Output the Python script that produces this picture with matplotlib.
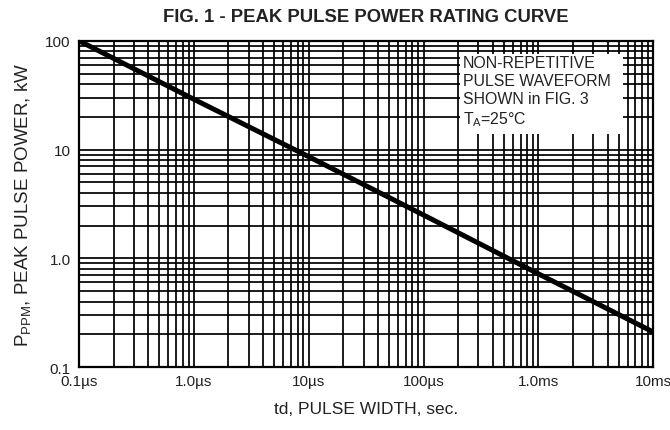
import numpy as np
import matplotlib.pyplot as plt
from matplotlib.patches import Rectangle
from matplotlib.ticker import FixedLocator, FixedFormatter, NullFormatter, LogLocator

plt.rcParams['font.family'] = ['Liberation Sans', 'DejaVu Sans']

# pulse width (s) and peak pulse power (kW)
pulse_width = [1e-7, 1e-6, 1e-5, 1e-4, 1e-3, 1e-2]
peak_power = [100, 29, 8.6, 2.5, 0.72, 0.21]

x_ticks = [1e-7, 1e-6, 1e-5, 1e-4, 1e-3, 1e-2]
x_labels = ['0.1\u00b5s', '1.0\u00b5s', '10\u00b5s', '100\u00b5s', '1.0ms', '10ms']
y_ticks = [0.1, 1, 10, 100]
y_labels = ['0.1', '1.0', '10', '100']

note_lines = ['NON-REPETITIVE', 'PULSE WAVEFORM', 'SHOWN in FIG. 3', 'T$_{\\mathregular{A}}$=25\u00b0C']

text_color = '#222222'

fig = plt.figure(figsize=(6.7, 4.31), dpi=100)
ax = fig.add_axes([0.118, 0.146, 0.857, 0.757])

ax.set_xscale('log')
ax.set_yscale('log')
ax.set_xlim(1e-7, 1e-2)
ax.set_ylim(0.1, 100)

ax.xaxis.set_major_locator(FixedLocator(x_ticks))
ax.xaxis.set_major_formatter(FixedFormatter(x_labels))
ax.yaxis.set_major_locator(FixedLocator(y_ticks))
ax.yaxis.set_major_formatter(FixedFormatter(y_labels))
ax.xaxis.set_minor_locator(LogLocator(base=10, subs=np.arange(2, 10), numticks=20))
ax.yaxis.set_minor_locator(LogLocator(base=10, subs=np.arange(2, 10), numticks=20))
ax.xaxis.set_minor_formatter(NullFormatter())
ax.yaxis.set_minor_formatter(NullFormatter())

ax.grid(True, which='both', color='black', linewidth=1.25, zorder=1)
ax.set_axisbelow(True)
ax.tick_params(which='both', length=0, labelsize=11, labelcolor=text_color)
ax.tick_params(axis='x', pad=5)
ax.tick_params(axis='y', pad=6)
for spine in ax.spines.values():
    spine.set_linewidth(1.6)

# white box behind the note
ax.add_patch(Rectangle((0.664, 0.715), 0.284, 0.245, transform=ax.transAxes,
                       facecolor='white', edgecolor='none', zorder=3))
ax.text(0.669, 0.957, '\n'.join(note_lines), transform=ax.transAxes, ha='left', va='top',
        fontsize=11.4, color=text_color, linespacing=1.25, zorder=4)

ax.plot(pulse_width, peak_power, color='black', linewidth=3.6, solid_capstyle='round', zorder=5)

ax.set_title('FIG. 1 - PEAK PULSE POWER RATING CURVE', fontsize=13.3, fontweight='bold',
             color=text_color, pad=14)
ax.set_xlabel('td, PULSE WIDTH, sec.', fontsize=12.5, color=text_color, labelpad=9)
ax.set_ylabel('P$_{\\mathregular{PPM}}$, PEAK PULSE POWER, kW', fontsize=13.5,
              color=text_color, labelpad=8)

fig.savefig('out.png', dpi=100)
